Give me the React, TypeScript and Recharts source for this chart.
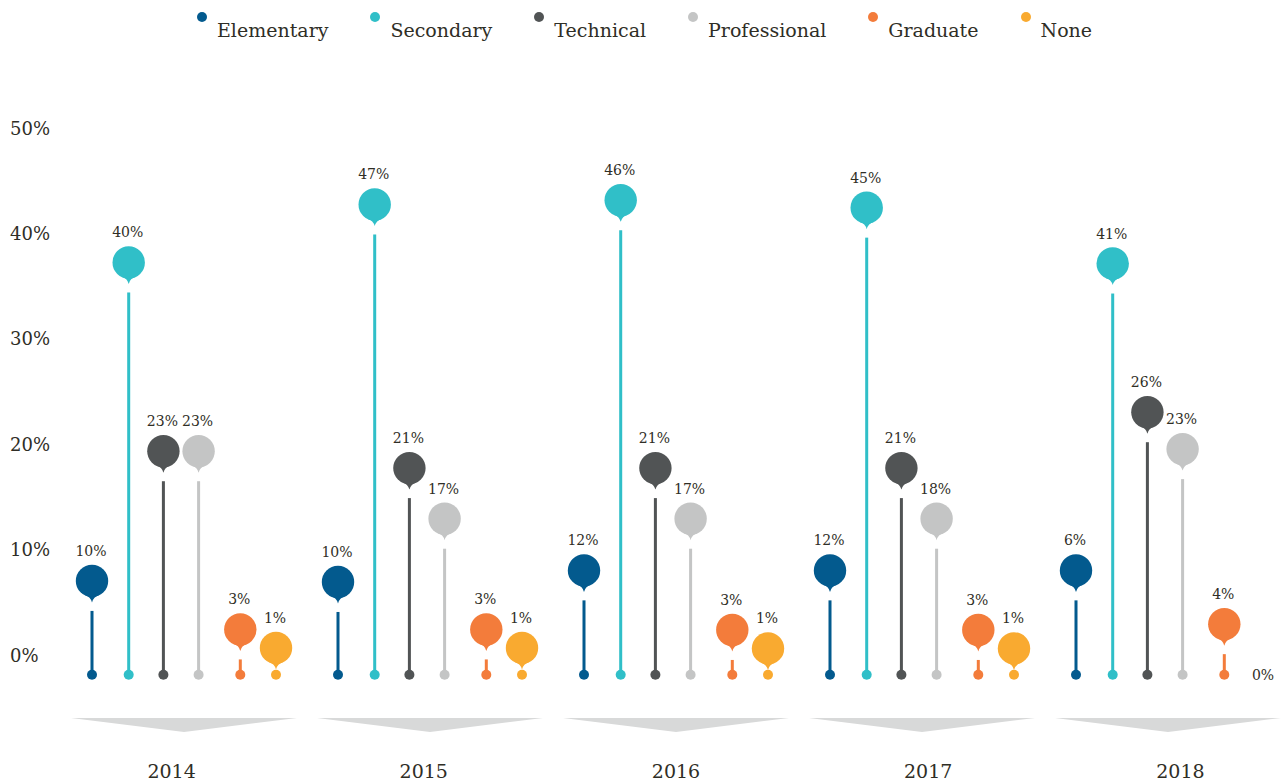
import React from 'react'
import { BarChart, Bar, XAxis, YAxis, Legend } from 'recharts'

const years = ['2014', '2015', '2016', '2017', '2018']

// where each pin head sits against the y axis
const elementaryPin = [7, 6.9, 8, 8, 8]
const secondaryPin = [37.2, 42.7, 43.1, 42.4, 37.1]
const technicalPin = [19.3, 17.7, 17.7, 17.7, 23]
const professionalPin = [19.3, 12.9, 12.9, 12.9, 19.5]
const graduatePin = [2.4, 2.4, 2.35, 2.35, 2.9]
const nonePin = [0.65, 0.65, 0.6, 0.6, 0]

// the percentages printed above the pins
const elementaryLabel = ['10%', '10%', '12%', '12%', '6%']
const secondaryLabel = ['40%', '47%', '46%', '45%', '41%']
const technicalLabel = ['23%', '21%', '21%', '21%', '26%']
const professionalLabel = ['23%', '17%', '17%', '18%', '23%']
const graduateLabel = ['3%', '3%', '3%', '3%', '4%']
const noneLabel = ['1%', '1%', '1%', '1%', '0%']

const yTicks = [0, 10, 20, 30, 40, 50]

const FONT = '"DejaVu Serif", serif'
const TEXT = '#2f2e26'

// nudge: small horizontal tweak so the two pin pairs sit a bit apart like the original
const series = [
  { key: 'elementary', name: 'Elementary', color: '#035a8e', nudge: 0, pins: elementaryPin, labels: elementaryLabel },
  { key: 'secondary', name: 'Secondary', color: '#30bfc8', nudge: 0, pins: secondaryPin, labels: secondaryLabel },
  { key: 'technical', name: 'Technical', color: '#515455', nudge: -2, pins: technicalPin, labels: technicalLabel },
  { key: 'professional', name: 'Professional', color: '#c4c5c5', nudge: -3.5, pins: professionalPin, labels: professionalLabel },
  { key: 'graduate', name: 'Graduate', color: '#f37c3b', nudge: 1.5, pins: graduatePin, labels: graduateLabel },
  { key: 'none', name: 'None', color: '#f9aa30', nudge: 0.5, pins: nonePin, labels: noneLabel },
]

const data = years.map((year, i) => {
  const row: any = { year }
  series.forEach((s) => {
    row[s.key] = s.pins[i]
    row[s.key + 'Label'] = s.labels[i]
  })
  return row
})

const makePin = (key: string, color: string, nudge: number) => (props: any) => {
  const { x, y, width, height, payload } = props
  const cx = x + width / 2 + nudge
  const baseY = y + height + 20
  const label = payload[key + 'Label']
  if (!payload[key]) {
    return (
      <text x={cx + 3} y={baseY + 5} textAnchor="middle" fontSize={14} fontFamily={FONT} fill={TEXT}>
        {label}
      </text>
    )
  }
  const cy = y
  const stemTop = cy + 30
  return (
    <g>
      {stemTop < baseY && (
        <rect x={cx - 1.5} y={stemTop} width={3} height={baseY - stemTop} fill={color} />
      )}
      <circle cx={cx} cy={baseY} r={5} fill={color} />
      <path
        d={`M${cx - 7},${cy + 14.4} Q${cx - 1.5},${cy + 16} ${cx},${cy + 21.5} Q${cx + 1.5},${cy + 16} ${cx + 7},${cy + 14.4} Z`}
        fill={color}
      />
      <circle cx={cx} cy={cy} r={16.2} fill={color} />
      <text x={cx - 1} y={cy - 25} textAnchor="middle" fontSize={14} fontFamily={FONT} fill={TEXT}>
        {label}
      </text>
    </g>
  )
}

const YTick = ({ y, payload }: any) => (
  <text x={10} y={y + 7} fontSize={18} fontFamily={FONT} fill={TEXT}>
    {payload.value}%
  </text>
)

const BandTick = ({ x, y }: any) => (
  <polygon points={`${x - 113},${y} ${x + 113},${y} ${x},${y + 14}`} fill="#d8d9d9" />
)

const YearTick = ({ x, y, payload }: any) => (
  <text x={x} y={y + 30} textAnchor="middle" fontSize={19} fontFamily={FONT} fill={TEXT}>
    {payload.value}
  </text>
)

const renderLegend = () => (
  <div style={{ display: 'flex', fontFamily: FONT, fontSize: 19, lineHeight: '20px', color: TEXT }}>
    {series.map((s) => (
      <div key={s.key} style={{ position: 'relative', paddingLeft: 20, marginRight: 42, whiteSpace: 'nowrap' }}>
        <span
          style={{
            position: 'absolute',
            left: 0,
            top: -8.4,
            width: 10,
            height: 10,
            borderRadius: 5,
            background: s.color,
          }}
        />
        {s.name}
      </div>
    ))}
  </div>
)

export default function App() {
  return (
    <div
      style={{
        position: 'absolute',
        left: 0,
        top: 0,
        width: 1283,
        height: 783,
        overflow: 'hidden',
        background: '#fff',
        fontFamily: FONT,
      }}
    >
      <BarChart
        width={1310}
        height={783}
        data={data}
        margin={{ top: 127.5, right: 3.5, bottom: 0, left: 0 }}
        barSize={30}
        barGap={6.7}
      >
        <XAxis
          xAxisId="main"
          dataKey="year"
          padding={{ left: 15.5, right: 15.5 }}
          axisLine={false}
          tickLine={false}
          tickSize={0}
          tickMargin={0}
          height={30}
          interval={0}
          tick={<BandTick />}
        />
        <XAxis
          xAxisId="year"
          dataKey="year"
          axisLine={false}
          tickLine={false}
          tickSize={0}
          tickMargin={0}
          height={35}
          interval={0}
          tick={<YearTick />}
        />
        <YAxis
          domain={[-6, 50]}
          ticks={yTicks}
          width={45.5}
          axisLine={false}
          tickLine={false}
          interval={0}
          tick={<YTick />}
        />
        <Legend
          layout="horizontal"
          align="center"
          verticalAlign="middle"
          wrapperStyle={{ top: 20.4, left: 197, width: 1050 }}
          content={renderLegend}
        />
        {series.map((s) => (
          <Bar
            key={s.key}
            xAxisId="main"
            dataKey={s.key}
            name={s.name}
            fill={s.color}
            shape={makePin(s.key, s.color, s.nudge)}
            isAnimationActive={false}
          />
        ))}
      </BarChart>
    </div>
  )
}
